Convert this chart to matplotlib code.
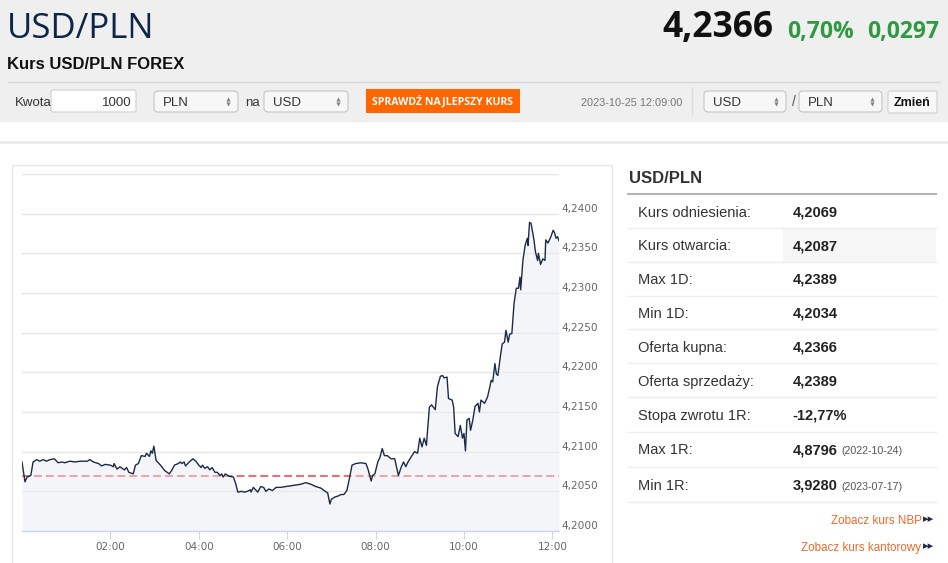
import matplotlib
matplotlib.use('Agg')
import matplotlib.pyplot as plt
from matplotlib.patches import Rectangle, FancyBboxPatch
from matplotlib.transforms import offset_copy

# Notowania USD/PLN z 2023-10-25 (minuty od północy, kurs)
minuty = [0, 4, 7, 12, 15, 20, 24, 29, 33, 38, 44, 49, 54, 58, 65, 72, 79, 89, 92, 97,
          104, 108, 113, 120, 124, 125, 129, 133, 139, 142, 145, 151, 154, 158, 162, 167, 169, 173, 175, 177,
          179, 182, 188, 194, 200, 203, 207, 212, 215, 217, 220, 222, 227, 232, 236, 240, 243, 245, 248, 252,
          255, 258, 262, 265, 269, 271, 273, 276, 281, 287, 290, 293, 298, 302, 306, 310, 311, 314, 317, 320,
          324, 328, 331, 335, 340, 345, 351, 358, 365, 372, 379, 385, 392, 399, 406, 410, 415, 418, 420, 425,
          429, 433, 437, 441, 444, 448, 453, 460, 467, 470, 474, 476, 479, 483, 486, 489, 492, 496, 501, 506,
          511, 515, 518, 521, 524, 528, 533, 537, 540, 543, 546, 549, 553, 556, 561, 564, 568, 571, 573, 577,
          579, 584, 586, 588, 592, 595, 598, 600, 602, 604, 607, 609, 612, 615, 619, 621, 623, 628, 632, 634,
          637, 639, 642, 644, 646, 650, 652, 655, 657, 660, 662, 665, 668, 671, 674, 676, 677, 680, 683, 686,
          687, 689, 691, 695, 697, 700, 701, 704, 707, 710, 711, 714, 718, 721, 723, 725, 727, 729]
kurs = [4.2087, 4.2062, 4.2068, 4.2070, 4.2087, 4.2090, 4.2088, 4.2090, 4.2088, 4.2090,
        4.2091, 4.2086, 4.2087, 4.2086, 4.2088, 4.2087, 4.2088, 4.2088, 4.2090, 4.2087,
        4.2085, 4.2082, 4.2084, 4.2083, 4.2081, 4.2085, 4.2078, 4.2081, 4.2077, 4.2080,
        4.2074, 4.2072, 4.2083, 4.2085, 4.2095, 4.2094, 4.2098, 4.2094, 4.2101, 4.2098,
        4.2107, 4.2089, 4.2083, 4.2076, 4.2072, 4.2076, 4.2083, 4.2085, 4.2087, 4.2085,
        4.2087, 4.2082, 4.2087, 4.2091, 4.2088, 4.2083, 4.2080, 4.2083, 4.2079, 4.2081,
        4.2077, 4.2080, 4.2074, 4.2074, 4.2070, 4.2072, 4.2068, 4.2072, 4.2069, 4.2068,
        4.2060, 4.2049, 4.2050, 4.2049, 4.2050, 4.2052, 4.2049, 4.2055, 4.2052, 4.2049,
        4.2056, 4.2055, 4.2050, 4.2053, 4.2051, 4.2055, 4.2055, 4.2056, 4.2057, 4.2058,
        4.2059, 4.2061, 4.2059, 4.2056, 4.2054, 4.2051, 4.2048, 4.2034, 4.2040, 4.2043,
        4.2044, 4.2046, 4.2046, 4.2051, 4.2064, 4.2083, 4.2085, 4.2086, 4.2085, 4.2077,
        4.2063, 4.2070, 4.2072, 4.2087, 4.2093, 4.2104, 4.2095, 4.2095, 4.2091, 4.2091,
        4.2070, 4.2081, 4.2087, 4.2081, 4.2087, 4.2093, 4.2100, 4.2098, 4.2117, 4.2106,
        4.2117, 4.2108, 4.2156, 4.2159, 4.2153, 4.2182, 4.2195, 4.2196, 4.2193, 4.2194,
        4.2167, 4.2165, 4.2156, 4.2123, 4.2119, 4.2133, 4.2117, 4.2123, 4.2101, 4.2140,
        4.2142, 4.2127, 4.2140, 4.2157, 4.2161, 4.2150, 4.2165, 4.2161, 4.2169, 4.2177,
        4.2190, 4.2188, 4.2211, 4.2198, 4.2196, 4.2224, 4.2236, 4.2238, 4.2253, 4.2238,
        4.2248, 4.2249, 4.2287, 4.2306, 4.2306, 4.2320, 4.2304, 4.2341, 4.2360, 4.2369,
        4.2360, 4.2389, 4.2388, 4.2367, 4.2352, 4.2341, 4.2350, 4.2336, 4.2343, 4.2341,
        4.2367, 4.2363, 4.2371, 4.2379, 4.2376, 4.2369, 4.2371, 4.2366]

kurs_odniesienia = 4.2069
godziny_min = [120, 240, 360, 480, 600, 720]
godziny_etykiety = ['02:00', '04:00', '06:00', '08:00', '10:00', '12:00']
y_ticks = [4.2000, 4.2050, 4.2100, 4.2150, 4.2200, 4.2250, 4.2300, 4.2350, 4.2400]
y_top = 4.2450

# Panel z danymi po prawej
etykiety = ['Kurs odniesienia:', 'Kurs otwarcia:', 'Max 1D:', 'Min 1D:', 'Oferta kupna:',
            'Oferta sprzedaży:', 'Stopa zwrotu 1R:', 'Max 1R:', 'Min 1R:']
wartosci = ['4,2069', '4,2087', '4,2389', '4,2034', '4,2366', '4,2389', '-12,77%', '4,8796', '3,9280']
daty = ['', '', '', '', '', '', '', '(2022-10-24)', '(2023-07-17)']

W, H = 948, 563
fig = plt.figure(figsize=(W / 100, H / 100), dpi=100)
fig.patch.set_facecolor('white')

# tło strony w pikselach
bg = fig.add_axes([0, 0, 1, 1])
bg.set_xlim(0, W)
bg.set_ylim(H, 0)
bg.axis('off')

OPEN = 'Open Sans'
ARIAL = 'Liberation Sans'

# --- nagłówek ---
bg.add_patch(Rectangle((0, 0), W, 122, fc='#efefef', ec='none'))
bg.add_patch(Rectangle((0, 141), W, 3, fc='#ebebeb', ec='none'))
bg.plot([8, 940], [81.5, 81.5], color='#d9d9d9', lw=1)

bg.text(7, 37.5, 'USD/PLN', fontsize=25, family=OPEN, fontweight=500, color='#0d2547', va='baseline')
bg.text(662, 37.5, '4,2366', fontsize=25.5, family=OPEN, fontweight='bold', color='#111111', va='baseline')
bg.text(787, 38, '0,70%', fontsize=16.5, family=OPEN, fontweight='bold', color='#2f9a3f', va='baseline')
bg.text(867, 38, '0,0297', fontsize=16.5, family=OPEN, fontweight='bold', color='#2f9a3f', va='baseline')
bg.text(7, 69, 'Kurs USD/PLN FOREX', fontsize=12, family=ARIAL, fontweight='bold', color='#111111', va='baseline')

# formularz
bg.text(15, 105.5, 'Kwota', fontsize=9.5, family=ARIAL, color='#333333', va='baseline')
bg.add_patch(FancyBboxPatch((51, 90), 85, 22, boxstyle='round,pad=0,rounding_size=2',
                            fc='white', ec='#d0d0d0', lw=0.8))
bg.text(132, 105.5, '1000', fontsize=9.5, family=ARIAL, color='#333333', va='baseline', ha='right')


def select_box(x0, x1, label):
    bg.add_patch(FancyBboxPatch((x0, 91), x1 - x0, 21, boxstyle='round,pad=0,rounding_size=4',
                                fc='#f7f7f7', ec='#c4c4c4', lw=0.8))
    bg.text(x0 + 9, 105.5, label, fontsize=9.5, family=ARIAL, color='#333333', va='baseline')
    bg.plot(x1 - 10, 98.5, marker='^', ms=3, color='#808080', mec='none')
    bg.plot(x1 - 10, 103.5, marker='v', ms=3, color='#808080', mec='none')


select_box(154, 238, 'PLN')
bg.text(245, 105.5, 'na', fontsize=9.5, family=ARIAL, color='#333333', va='baseline')
select_box(264, 348, 'USD')

bg.add_patch(Rectangle((366, 89), 154, 24, fc='#ff6600', ec='none'))
bg.text(443, 104.5, 'SPRAWDŹ NAJLEPSZY KURS', fontsize=7.6, family=OPEN, fontweight='bold',
        color='white', va='baseline', ha='center')

bg.text(581, 106, '2023-10-25 12:09:00', fontsize=7.9, family=ARIAL, color='#777777', va='baseline')
bg.plot([692, 692], [88, 115], color='#dddddd', lw=1)
select_box(704, 786, 'USD')
bg.text(792, 106, '/', fontsize=10, family=ARIAL, color='#555555', va='baseline')
select_box(799, 882, 'PLN')
bg.add_patch(FancyBboxPatch((888, 91), 49, 22, boxstyle='round,pad=0,rounding_size=2',
                            fc='#f8f8f8', ec='#cfcfcf', lw=0.8))
bg.text(912.5, 106, 'Zmień', fontsize=9, family=ARIAL, fontweight='bold', color='#111111',
        va='baseline', ha='center')

# ramka wykresu
bg.add_patch(Rectangle((12.5, 164.5), 600, 420, fc='white', ec='#e6e6e6', lw=1))

# --- panel po prawej ---
bg.text(629, 183.3, 'USD/PLN', fontsize=12, family=ARIAL, fontweight='bold', color='#333333', va='baseline')
bg.plot([628, 936], [194, 194], color='#b5b5b5', lw=1.5)

separatory = [228.3, 262.3, 295.7, 329.3, 363.3, 397.3, 431.7, 466.7, 502.3]
bazowe = [216.7, 250.5, 284, 318, 352, 386, 420, 454.5, 489.5]
bg.add_patch(Rectangle((783, 228.8), 153, 33, fc='#f6f6f6', ec='none'))
for i in range(len(etykiety)):
    bg.plot([628, 936], [separatory[i], separatory[i]], color='#eeeeee', lw=1)
    bg.text(638.3, bazowe[i], etykiety[i], fontsize=10.5, family=ARIAL, color='#333333', va='baseline')
    bg.text(792.3, bazowe[i], wartosci[i], fontsize=10.5, family=ARIAL, fontweight='bold',
            color='#222222', va='baseline')
    if daty[i]:
        bg.text(841.5, bazowe[i], daty[i], fontsize=7.7, family=ARIAL, color='#555555', va='baseline')

bg.text(921.5, 523.5, 'Zobacz kurs NBP', fontsize=8.4, family=ARIAL, color='#f0692a',
        va='baseline', ha='right')
bg.text(923, 522.5, '▸▸', fontsize=8, family='DejaVu Sans', color='#1d2a44', va='baseline')
bg.text(921.5, 550.5, 'Zobacz kurs kantorowy', fontsize=8.4, family=ARIAL, color='#f0692a',
        va='baseline', ha='right')
bg.text(923, 549.5, '▸▸', fontsize=8, family='DejaVu Sans', color='#1d2a44', va='baseline')

# --- wykres ---
ax = fig.add_axes([22 / W, 1 - 531 / H, 537 / W, 357 / H])
ax.set_facecolor('white')
ax.set_xlim(0, max(minuty))
ax.set_ylim(y_ticks[0], y_top)

for v in y_ticks[1:] + [y_top]:
    ax.axhline(v, color='#e6e6e6', lw=1, zorder=0)

ax.axhline(kurs_odniesienia, color='#f43f3f', lw=1.1, dashes=(5.2, 2.6), zorder=1)
ax.fill_between(minuty, kurs, y_ticks[0], color='#e8ebf1', alpha=0.45, lw=0, zorder=2)
ax.plot(minuty, kurs, color='#1c2a48', lw=1.0, zorder=3)

for s in ['top', 'left', 'right']:
    ax.spines[s].set_visible(False)
ax.spines['bottom'].set_color('#ccd6eb')
ax.spines['bottom'].set_linewidth(1)

ax.set_xticks(godziny_min)
ax.set_xticklabels(godziny_etykiety)
ax.tick_params(axis='x', length=6, width=0.8, color='#ccd6eb', labelcolor='#666666',
               labelsize=7.5, pad=2)
ax.set_yticks([])

ytrans = offset_copy(ax.get_yaxis_transform(), fig=fig, x=2, y=5, units='dots')
for v in y_ticks:
    ax.text(1.0, v, f'{v:.4f}'.replace('.', ','), transform=ytrans, fontsize=7.6,
            family='DejaVu Sans', color='#666666', ha='left', va='center', clip_on=False)

plt.savefig('out.png', dpi=100)
print('Zapisano out.png')
